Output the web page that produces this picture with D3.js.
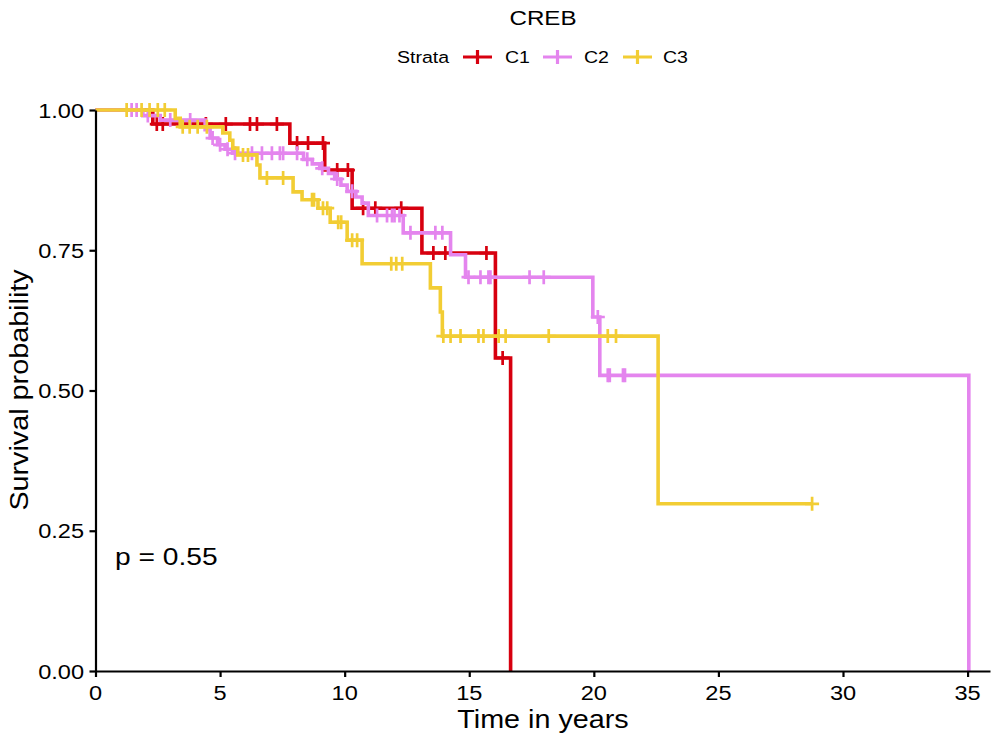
<!DOCTYPE html>
<html><head><meta charset="utf-8">
<script src="https://cdn.jsdelivr.net/npm/d3@7"></script>
<style>body{margin:0;background:#fff}svg{display:block}text{font-family:"Liberation Sans",Arial,Helvetica,sans-serif;fill:#000}</style>
</head><body>
<svg id="chart" width="994" height="740"></svg>
<script>
// ---- data ----
const strata = ["C1", "C2", "C3"];
const strataColors = ["#D7000F", "#E485EE", "#F2CD34"];
const xTicks = [0, 5, 10, 15, 20, 25, 30, 35];
const yTicks = [0, 0.25, 0.5, 0.75, 1];

const c1Times = [0, 2.3, 7.8, 9.2, 10.3, 13.1, 16.05, 16.66];
const c1Surv  = [1, 0.975, 0.941, 0.893, 0.825, 0.745, 0.558, 0];
const c1Censor = [2.46, 2.7, 4.43, 5.23, 6.2, 6.48, 7.28, 8.09, 8.53, 9.13, 9.7, 10.13, 10.74, 11.23, 12.27, 13.56, 14.04, 15.69, 16.34];

const c2Times = [0, 1.9, 2.6, 4.4, 4.6, 4.9, 5.2, 5.5, 8.35, 8.7, 9.0, 9.35, 9.6, 9.85, 10.1, 10.45, 10.7, 10.95, 12.35, 14.25, 14.85, 19.96, 20.24, 35.05];
const c2Surv  = [1, 0.99, 0.982, 0.965, 0.95, 0.938, 0.93, 0.923, 0.912, 0.904, 0.896, 0.887, 0.877, 0.866, 0.855, 0.845, 0.834, 0.812, 0.781, 0.742, 0.702, 0.631, 0.527, 0];
const c2Censor = [1.45, 1.65, 2.1, 3.0, 3.8, 4.7, 5.0, 5.3, 5.6, 6.28, 6.68, 7.08, 7.4, 7.53, 8.09, 8.5, 9.1, 9.7, 10.3, 11.3, 11.7, 11.9, 12.0, 12.2, 12.64, 13.64, 13.92, 14.97, 15.45, 15.77, 15.85, 17.42, 17.99, 20.16, 20.56, 20.64, 21.17, 21.25];

const c3Times = [0, 3.2, 3.4, 5.11, 5.39, 5.51, 5.71, 6.48, 6.6, 7.93, 8.29, 8.93, 9.42, 10.1, 10.7, 13.44, 13.84, 13.92, 22.58, 28.76];
const c3Surv  = [1, 0.985, 0.97, 0.959, 0.946, 0.932, 0.92, 0.902, 0.879, 0.854, 0.84, 0.825, 0.8, 0.768, 0.726, 0.683, 0.64, 0.597, 0.298, 0.298];
const c3Censor = [1.25, 1.85, 2.17, 2.5, 2.78, 3.5, 3.78, 4.1, 4.47, 5.92, 6.12, 6.88, 7.53, 8.69, 8.77, 9.13, 9.3, 9.74, 9.86, 10.3, 10.5, 11.87, 12.07, 12.31, 13.96, 14.25, 14.65, 15.37, 15.57, 16.18, 16.46, 18.19, 20.56, 20.89, 28.76];

const titleText = "CREB";
const legendTitle = "Strata";
const xLabel = "Time in years";
const yLabel = "Survival probability";
const pText = "p = 0.55";

// ---- drawing ----
const svg = d3.select("#chart");
const SX = 1.15; // horizontal glyph stretch of the reference's font
const x = d3.scaleLinear().domain([0, 35.9]).range([95.5, 990]);
const y = d3.scaleLinear().domain([0, 1]).range([671, 110]);

function txt(g, tx, ty, str, size, anchor, rot) {
  return g.append("text")
    .attr("transform", `translate(${tx},${ty}) rotate(${rot || 0}) scale(${SX},1)`)
    .attr("text-anchor", anchor || "start")
    .style("font-size", size + "px")
    .text(str);
}

const series = [
  {times: c1Times, surv: c1Surv, censor: c1Censor},
  {times: c2Times, surv: c2Surv, censor: c2Censor},
  {times: c3Times, surv: c3Surv, censor: c3Censor}
];

const line = d3.line().x(d => x(d[0])).y(d => y(d[1])).curve(d3.curveStepAfter);
function survAt(s, t) {
  let v = s.surv[0];
  for (let i = 0; i < s.times.length; i++) { if (s.times[i] <= t) v = s.surv[i]; }
  return v;
}

const plot = svg.append("g");
series.forEach((s, i) => {
  const pts = s.times.map((t, j) => [t, s.surv[j]]);
  const g = plot.append("g");
  g.append("path").attr("d", line(pts)).attr("fill", "none")
    .attr("stroke", strataColors[i]).attr("stroke-width", 3.6);
  const arm = 7;
  g.selectAll("path.c").data(s.censor).join("path")
    .attr("d", t => {
      const cx = x(t), cy = y(survAt(s, t));
      return `M${cx - arm},${cy}H${cx + arm}M${cx},${cy - arm}V${cy + arm}`;
    })
    .attr("stroke", strataColors[i]).attr("stroke-width", 2.7).attr("fill", "none");
});

// axes
const xAxis = svg.append("g").attr("transform", "translate(0,671)")
  .call(d3.axisBottom(x).tickValues(xTicks).tickSize(6).tickSizeOuter(0).tickFormat(d3.format("d")));
const yAxis = svg.append("g").attr("transform", "translate(95.5,0)")
  .call(d3.axisLeft(y).tickValues(yTicks).tickSize(6).tickSizeOuter(0).tickFormat(d3.format(".2f")));
[xAxis, yAxis].forEach(a => {
  a.select(".domain").attr("stroke", "#000").attr("stroke-width", 2.2);
  a.selectAll(".tick line").attr("stroke", "#000").attr("stroke-width", 2.2);
  a.selectAll(".tick text").remove();
});
xTicks.forEach(v => txt(svg, x(v), 700, d3.format("d")(v), 20.5, "middle"));
yTicks.forEach(v => txt(svg, 84, y(v) + 7.5, d3.format(".2f")(v), 20.5, "end"));

// titles
txt(svg, 543, 25, titleText, 21, "middle");
txt(svg, 543, 728, xLabel, 25, "middle");
txt(svg, 28, 390, yLabel, 25, "middle", -90);
txt(svg, 115, 565, pText, 24.5, "start");

// legend
txt(svg, 397, 63, legendTitle, 17, "start");
const legKeys = [463, 543, 623];
const legLabels = [505, 584, 663];
strata.forEach((s, i) => {
  const k = legKeys[i];
  svg.append("path").attr("d", `M${k},57H${k + 29}M${k + 14.5},50V64`)
    .attr("stroke", strataColors[i]).attr("stroke-width", 3.2).attr("fill", "none");
  txt(svg, legLabels[i], 63, s, 17, "start");
});
</script>
</body></html>
